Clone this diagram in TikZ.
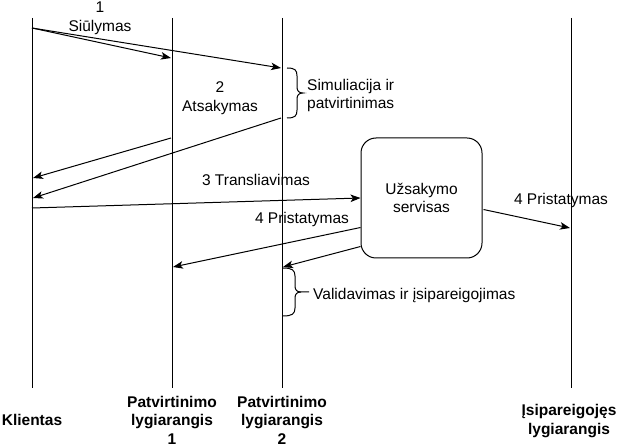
\documentclass[tikz,border=0pt]{standalone}
\usepackage{fontspec}
\setmainfont{Liberation Sans}
\usetikzlibrary{arrows.meta,calc}
\tikzset{
  lbl/.style={inner sep=0pt, align=center, font=\fontsize{15.5pt}{18.5pt}\selectfont},
  lblL/.style={inner sep=0pt, align=left, font=\fontsize{15.5pt}{18pt}\selectfont},
  head/.style={inner sep=0pt, align=center, font=\fontsize{15.5pt}{18.5pt}\selectfont\bfseries},
  life/.style={line width=1pt},
  msg/.style={line width=1pt, -{Stealth[length=10pt,width=7.5pt,inset=2.5pt]}},
  brc/.style={line width=1pt},
  svcbox/.style={draw, line width=1pt, rounded corners=15pt, minimum width=121pt, minimum height=120pt, inner sep=0pt, align=center, font=\fontsize{15.5pt}{18.5pt}\selectfont}
}
\begin{document}
\begin{tikzpicture}[x=1pt,y=-1pt]
\useasboundingbox (0,0) rectangle (621,446);
% lifelines
\coordinate (k-t) at (32,18);   \coordinate (k-b) at (32,388);
\coordinate (p1-t) at (172,18); \coordinate (p1-b) at (172,388);
\coordinate (p2-t) at (282,18); \coordinate (p2-b) at (282,388);
\coordinate (i-t) at (571,18);  \coordinate (i-b) at (571,388);
\draw[life] (k-t) -- (k-b);
\draw[life] (p1-t) -- (p1-b);
\draw[life] (p2-t) -- (p2-b);
\draw[life] (i-t) -- (i-b);
% headers
\node[head] (hk) at (32,420) {Klientas};
\node[head] (hp1) at (172,420) {Patvirtinimo\\lygiarangis\\1};
\node[head] (hp2) at (282,420) {Patvirtinimo\\lygiarangis\\2};
\node[head] (hi) at (569,421) {Įsipareigojęs\\lygiarangis};
% service box
\node[svcbox] (svc) at (421.5,198) {Užsakymo\\servisas};
% message end points
\coordinate (k1) at (32,28);
\coordinate (p1a) at (171,58);
\coordinate (p2a) at (281,68);
\coordinate (p1r) at (171,138);
\coordinate (k2) at (33,178);
\coordinate (p2r) at (281,118);
\coordinate (k3) at (33,198);
\coordinate (k4) at (32,208);
\coordinate (p1d) at (173,267);
\coordinate (p2d) at (283,267);
\coordinate (id) at (570,228);
\coordinate (s1) at ($(svc.north west)+(0,90)$);
\coordinate (s2) at ($(svc.north west)+(0,109)$);
\coordinate (s3) at ($(svc.north east)+(1,72)$);
% messages
\draw[msg] (k1) -- (p1a);
\draw[msg] (k1) -- (p2a);
\draw[msg] (p1r) -- (k2);
\draw[msg] (p2r) -- (k3);
\draw[msg] (k4) -- (svc.west);
\draw[msg] (s1) -- (p1d);
\draw[msg] (s2) -- (p2d);
\draw[msg] (s3) -- (id);
% labels
\node[lbl] (l1) at (100,18.5) {1\\Siūlymas};
\node[lbl] (l2) at (220,98) {2\\Atsakymas};
\node[lbl] (l3) at (256,180) {3 Transliavimas};
\node[lbl] (l4) at (302,219) {4 Pristatymas};
\node[lbl] (l5) at (561,200) {4 Pristatymas};
% brace 1
\draw[brc] (287,68) .. controls (295,68) and (297,70) .. (297,76) -- (297,87)
  .. controls (297,91) and (299,93) .. (303,93)
  .. controls (299,93) and (297,95) .. (297,99) -- (297,110)
  .. controls (297,116) and (295,118) .. (287,118);
\node[lblL, anchor=west] (b1) at (307,95) {Simuliacija ir\\patvirtinimas};
% brace 2
\draw[brc] (283,268) .. controls (292,268) and (295,270) .. (295,276) -- (295,286)
  .. controls (295,290) and (297,292) .. (301,292) -- (309,292);
\draw[brc] (301,292) .. controls (297,292) and (295,294) .. (295,298) -- (295,308)
  .. controls (295,314) and (292,316) .. (283,316);
\node[lblL, anchor=west] (b2) at (313,296) {Validavimas ir įsipareigojimas};
\end{tikzpicture}
\end{document}
